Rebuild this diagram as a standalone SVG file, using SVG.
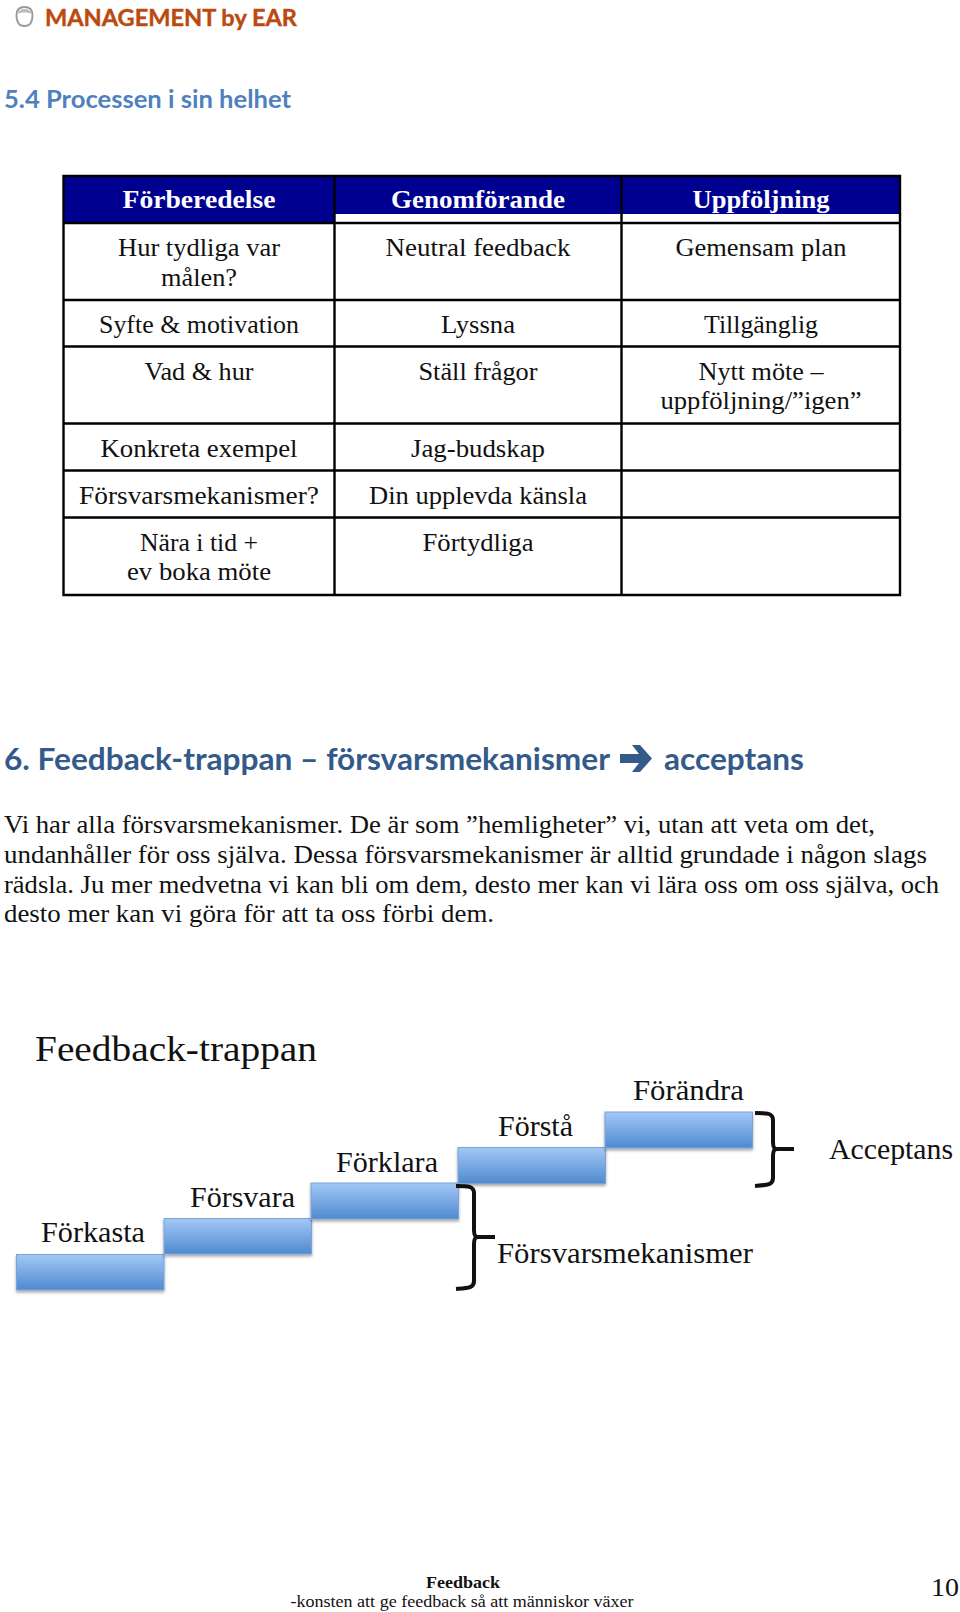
<svg xmlns="http://www.w3.org/2000/svg" width="960" height="1612" viewBox="0 0 960 1612">
<style>
text{font-family:"Liberation Serif",serif;fill:#111}
.c{font-size:25px;text-anchor:middle}
.h{font-size:25px;font-weight:bold;text-anchor:middle;fill:#fff}
.b{font-size:25px}
.s{font-size:29px}
.g{fill:none;stroke:#000;stroke-width:2.4}
.st{fill:url(#sg);stroke:#7ba3d4;stroke-width:1;filter:url(#sh)}
.br{fill:none;stroke:#111;stroke-width:4}
.hd{font-family:Lato,"Noto Sans",sans-serif;font-weight:bold}
</style>
<defs>
<linearGradient id="sg" x1="0" y1="0" x2="0" y2="1"><stop offset="0" stop-color="#a3c8f7"/><stop offset="1" stop-color="#4f8ad0"/></linearGradient>
<filter id="sh" x="-5%" y="-10%" width="110%" height="130%"><feDropShadow dx="0" dy="2" stdDeviation="1.5" flood-color="#000" flood-opacity=".35"/></filter>
</defs>
<rect width="960" height="1612" fill="#fff"/>
<g id="logo">
<path d="M24.500 7c5 0 8 3 8 8 0 7-3 11-8 11s-8-4-8-11c0-5 3-8 8-8z" fill="#fff" stroke="#999" stroke-width="1.800"/>
<path d="M17 14c1-3 4-5 7.500-5s6.500 2 7.500 5c-4-2-11-2-15 0z" fill="#bbb"/>
<text class="hd" x="45" y="25.500" font-size="22.600" style="fill:#bb4a10;stroke:#bb4a10;stroke-width:.4" textLength="252" lengthAdjust="spacingAndGlyphs">MANAGEMENT by EAR</text>
</g>
<text class="hd" x="4" y="108" font-size="25" style="fill:#4f81bd" textLength="287" lengthAdjust="spacingAndGlyphs">5.4 Processen i sin helhet</text>
<g id="table">
<rect x="63.500" y="176" width="271" height="46" fill="#000090"/>
<rect x="335" y="176" width="287" height="38" fill="#000090"/>
<rect x="622" y="176" width="278" height="38" fill="#000090"/>
<path class="g" d="M63.500 176H900V595H63.500Z"/>
<path class="g" d="M63.500 223H900M63.500 300H900M63.500 346.500H900M63.500 423.500H900M63.500 470.500H900M63.500 517.500H900M334.500 176V595M621.500 176V595"/>
<text class="h" x="199" y="208" textLength="153" lengthAdjust="spacingAndGlyphs">Förberedelse</text>
<text class="h" x="478" y="208" textLength="174" lengthAdjust="spacingAndGlyphs">Genomförande</text>
<text class="h" x="761" y="208" textLength="137" lengthAdjust="spacingAndGlyphs">Uppföljning</text>
<text class="c" x="199" y="256" textLength="162" lengthAdjust="spacingAndGlyphs">Hur tydliga var</text>
<text class="c" x="199" y="285.500" textLength="76" lengthAdjust="spacingAndGlyphs">målen?</text>
<text class="c" x="478" y="256" textLength="185" lengthAdjust="spacingAndGlyphs">Neutral feedback</text>
<text class="c" x="761" y="256" textLength="171" lengthAdjust="spacingAndGlyphs">Gemensam plan</text>
<text class="c" x="199" y="333" textLength="200" lengthAdjust="spacingAndGlyphs">Syfte &amp; motivation</text>
<text class="c" x="478" y="333" textLength="74" lengthAdjust="spacingAndGlyphs">Lyssna</text>
<text class="c" x="761" y="333" textLength="114" lengthAdjust="spacingAndGlyphs">Tillgänglig</text>
<text class="c" x="199" y="380" textLength="109" lengthAdjust="spacingAndGlyphs">Vad &amp; hur</text>
<text class="c" x="478" y="380" textLength="119" lengthAdjust="spacingAndGlyphs">Ställ frågor</text>
<text class="c" x="761" y="380" textLength="125" lengthAdjust="spacingAndGlyphs">Nytt möte –</text>
<text class="c" x="761" y="409" textLength="201" lengthAdjust="spacingAndGlyphs">uppföljning/”igen”</text>
<text class="c" x="199" y="456.500" textLength="197" lengthAdjust="spacingAndGlyphs">Konkreta exempel</text>
<text class="c" x="478" y="456.500" textLength="134" lengthAdjust="spacingAndGlyphs">Jag-budskap</text>
<text class="c" x="199" y="504" textLength="240" lengthAdjust="spacingAndGlyphs">Försvarsmekanismer?</text>
<text class="c" x="478" y="504" textLength="218" lengthAdjust="spacingAndGlyphs">Din upplevda känsla</text>
<text class="c" x="199" y="551" textLength="118" lengthAdjust="spacingAndGlyphs">Nära i tid +</text>
<text class="c" x="199" y="580" textLength="144" lengthAdjust="spacingAndGlyphs">ev boka möte</text>
<text class="c" x="478" y="551" textLength="111" lengthAdjust="spacingAndGlyphs">Förtydliga</text>
</g>
<g id="heading6">
<text class="hd" x="4" y="770" font-size="30" style="fill:#345a8a" textLength="606" lengthAdjust="spacingAndGlyphs">6. Feedback-trappan – försvarsmekanismer</text>
<path d="M620 754h19l-7-9h8l12 13.500-12 13.500h-8l7-9h-19z" fill="#345a8a"/>
<text class="hd" x="664" y="770" font-size="30" style="fill:#345a8a" textLength="140" lengthAdjust="spacingAndGlyphs">acceptans</text>
</g>
<g id="para">
<text class="b" x="4" y="833" textLength="871" lengthAdjust="spacingAndGlyphs">Vi har alla försvarsmekanismer. De är som ”hemligheter” vi, utan att veta om det,</text>
<text class="b" x="4" y="863" textLength="923" lengthAdjust="spacingAndGlyphs">undanhåller för oss själva. Dessa försvarsmekanismer är alltid grundade i någon slags</text>
<text class="b" x="4" y="892.500" textLength="935" lengthAdjust="spacingAndGlyphs">rädsla. Ju mer medvetna vi kan bli om dem, desto mer kan vi lära oss om oss själva, och</text>
<text class="b" x="4" y="922" textLength="490" lengthAdjust="spacingAndGlyphs">desto mer kan vi göra för att ta oss förbi dem.</text>
</g>
<text x="35" y="1060.500" font-size="36" textLength="282" lengthAdjust="spacingAndGlyphs">Feedback-trappan</text>
<g id="steps">
<rect class="st" x="16.500" y="1254.500" width="147.500" height="35.500"/>
<rect class="st" x="164" y="1218.500" width="147.500" height="35.500"/>
<rect class="st" x="311" y="1183" width="147.500" height="36"/>
<rect class="st" x="458" y="1147.500" width="147.500" height="36"/>
<rect class="st" x="605" y="1112" width="147.500" height="36"/>
</g>
<g id="labels">
<text class="s" x="41" y="1242" textLength="104" lengthAdjust="spacingAndGlyphs">Förkasta</text>
<text class="s" x="190" y="1207" textLength="105" lengthAdjust="spacingAndGlyphs">Försvara</text>
<text class="s" x="336" y="1172" textLength="102" lengthAdjust="spacingAndGlyphs">Förklara</text>
<text class="s" x="498" y="1136" textLength="75" lengthAdjust="spacingAndGlyphs">Förstå</text>
<text class="s" x="633" y="1100" textLength="111" lengthAdjust="spacingAndGlyphs">Förändra</text>
<text class="s" x="829" y="1159" textLength="124" lengthAdjust="spacingAndGlyphs">Acceptans</text>
<text class="s" x="497" y="1263" textLength="256" lengthAdjust="spacingAndGlyphs">Försvarsmekanismer</text>
</g>
<g id="braces">
<path class="br" d="M456 1186c12 0 18 0 18 7v37c0 5 1 7 4 7h17h-17c-3 0-4 2-4 7v37c0 7-6 7-18 8"/>
<path class="br" d="M755 1113c12 0 18 0 18 7v22c0 5 1 7 4 7h17h-17c-3 0-4 2-4 7v22c0 7-6 7-18 8"/>
</g>
<g id="footer">
<text x="463" y="1588" font-size="17" font-weight="bold" text-anchor="middle" textLength="74" lengthAdjust="spacingAndGlyphs">Feedback</text>
<text x="462" y="1607" font-size="17" text-anchor="middle" textLength="343" lengthAdjust="spacingAndGlyphs">-konsten att ge feedback så att människor växer</text>
<text x="931" y="1596" font-size="26" textLength="28" lengthAdjust="spacingAndGlyphs">10</text>
</g>
</svg>
